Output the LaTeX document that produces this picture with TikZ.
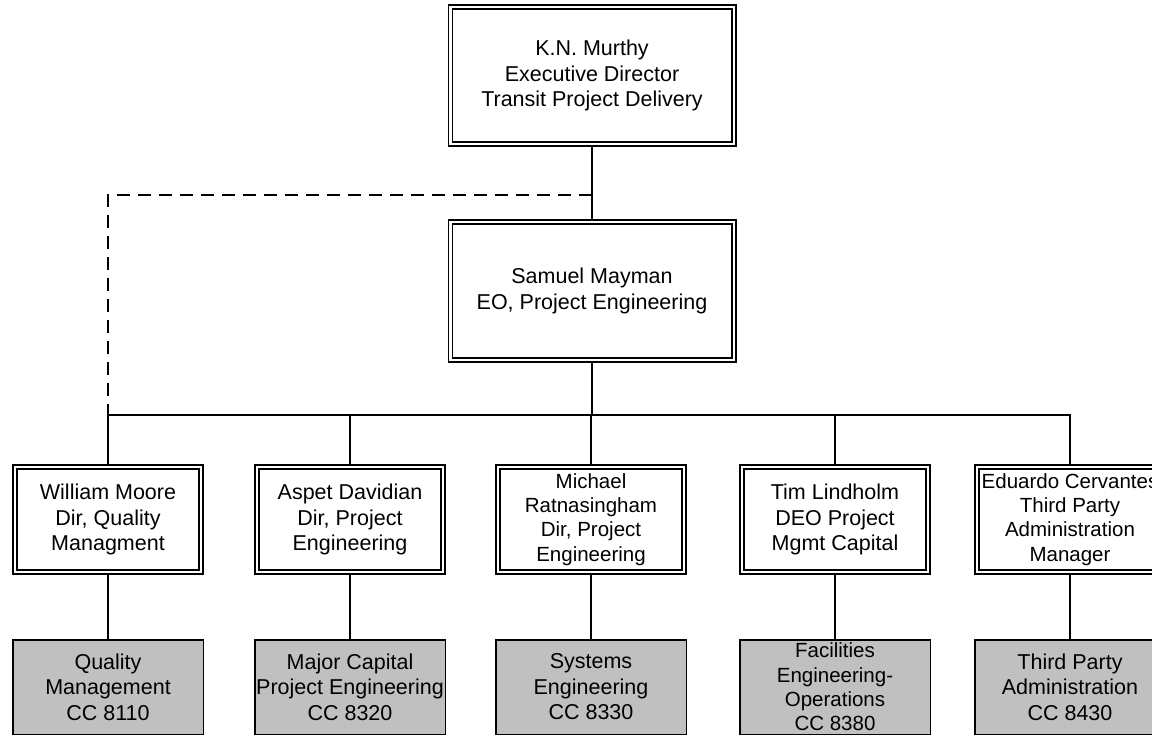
\documentclass[tikz,border=0pt]{standalone}
\usepackage{fontspec}
\setmainfont{Liberation Sans}
\usepackage{tikz}
\definecolor{unitgray}{RGB}{192,192,192}

\begin{document}
\begin{tikzpicture}[x=1pt,y=-1pt,line width=2pt,
        person/.style={draw,double,line width=1.6pt,double distance=2.4pt,outer sep=2.8pt,inner sep=0pt,
            align=center,minimum width=186.4pt,minimum height=105.4pt,font=\fontsize{21.5}{25.5}\selectfont},
        unit/.style={draw,fill=unitgray,line width=1.5pt,inner sep=0pt,align=center,
            minimum width=190.5pt,minimum height=94.5pt,font=\fontsize{21.5}{25.5}\selectfont},
        small/.style={font=\fontsize{20.5}{24.3}\selectfont}]
        \useasboundingbox (0,0) rectangle (1152,736);

        \coordinate (dl) at (592,195);
        \coordinate (bus) at (592,415);

        \node[person,minimum width=283.4pt,minimum height=137.4pt] (murthy) at (592,75.5)
            {K.N. Murthy\\Executive Director\\Transit Project Delivery};
        \node[person,minimum width=283.4pt,minimum height=138.4pt] (samuel) at (592,291)
            {Samuel Mayman\\EO, Project Engineering};

        \node[person] (wmoore) at (108,519.5) {William Moore\\Dir, Quality\\Managment};
        \node[person] (adavid) at (350,519.5) {Aspet Davidian\\Dir, Project\\Engineering};
        \node[person,small] (mratna) at (591,519.5) {Michael\\Ratnasingham\\Dir, Project\\Engineering};
        \node[person] (tlind) at (835,519.5) {Tim Lindholm\\DEO Project\\Mgmt Capital};
        \node[person,small] (ecerv) at (1070,519.5) {Eduardo Cervantes\\Third Party\\Administration\\Manager};

        \node[unit] (qm) at (108,687) {Quality\\Management\\CC 8110};
        \node[unit] (mcpe) at (350,687) {Major Capital\\Project Engineering\\CC 8320};
        \node[unit] (se) at (591,687) {Systems\\Engineering\\CC 8330};
        \node[unit,small] (feo) at (835,687) {Facilities\\Engineering-\\Operations\\CC 8380};
        \node[unit] (tpa) at (1070,687) {Third Party\\Administration\\CC 8430};

        \draw (murthy) -- (samuel);
        \draw[dash pattern=on 13pt off 8pt] (dl) -| (wmoore.north |- bus);
        \draw (samuel) -- (samuel |- bus);
        \draw (wmoore) |- (ecerv.north |- bus) -- (ecerv);
        \foreach \n in {adavid,mratna,tlind}
            \draw (\n) -- (\n |- bus);

        \draw (wmoore) -- (qm);
        \draw (adavid) -- (mcpe);
        \draw (mratna) -- (se);
        \draw (tlind) -- (feo);
        \draw (ecerv) -- (tpa);
    \end{tikzpicture}
\end{document}
